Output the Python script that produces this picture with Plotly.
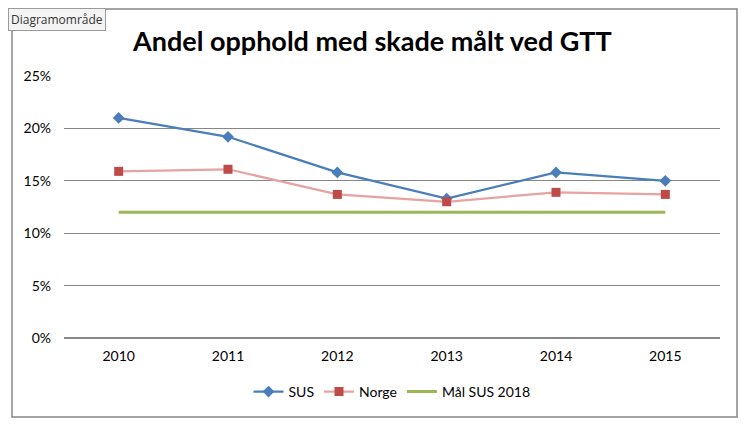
import plotly.graph_objects as go

years = ["2010", "2011", "2012", "2013", "2014", "2015"]
sus = [0.210, 0.192, 0.158, 0.133, 0.158, 0.150]
norge = [0.159, 0.161, 0.137, 0.130, 0.139, 0.137]
maal = [0.12, 0.12, 0.12, 0.12, 0.12, 0.12]

OFF = 8  # page body margin
W, H = 752 - OFF, 431 - OFF
L, R, T, B = 64 - OFF, 720 - OFF, 76 - OFF, 338 - OFF

def px(x):
    return (x - OFF - L) / (R - L)

def py(y):
    return (B - (y - OFF)) / (B - T)

fig = go.Figure()
fig.add_trace(go.Scatter(
    x=years, y=sus, name="SUS", mode="lines+markers",
    line=dict(color="#4A7EBB", width=2.25),
    marker=dict(symbol="diamond", size=9, color="#4A7EBB"),
))
fig.add_trace(go.Scatter(
    x=years, y=norge, name="Norge", mode="lines+markers",
    line=dict(color="#E6A3A1", width=2.25),
    marker=dict(symbol="square", size=9, color="#BE4B48"),
))
fig.add_trace(go.Scatter(
    x=years, y=maal, name="Mål SUS 2018", mode="lines",
    line=dict(color="#98B954", width=3),
))

fig.update_layout(
    width=W, height=H,
    margin=dict(l=L, r=W - R, t=T, b=H - B),
    paper_bgcolor="white", plot_bgcolor="white",
    font=dict(family="Lato, Open Sans, sans-serif", size=14, color="black"),
    showlegend=True,
    legend=dict(orientation="h", x=0.5, xanchor="center", y=py(392), yanchor="middle",
                font=dict(size=14), itemwidth=30, traceorder="normal"),
    xaxis=dict(type="category", range=[-0.5, 5.5], showgrid=False, zeroline=False,
               showline=False, ticks="", tickfont=dict(size=14), ticklabelstandoff=8),
    yaxis=dict(range=[0, 0.25], dtick=0.05, tickformat=".0%", showgrid=True,
               gridcolor="#868686", gridwidth=1, zeroline=True, zerolinecolor="#868686",
               showline=False, ticks="", ticklabelstandoff=12, tickfont=dict(size=14)),
    annotations=[
        dict(text="<b>Andel opphold med skade målt ved GTT</b>", xref="paper", yref="paper",
             x=px(372), y=py(41), xanchor="center", yanchor="middle", showarrow=False,
             font=dict(size=27, family="Lato, Open Sans, sans-serif", color="black")),
        dict(text="Diagramområde", xref="paper", yref="paper",
             x=px(8), y=py(8), xanchor="left", yanchor="top", showarrow=False,
             font=dict(size=12, family="Open Sans, sans-serif", color="#333333"),
             bgcolor="#F4F4F4", bordercolor="#9A9A9A", borderwidth=1, borderpad=2),
    ],
    shapes=[
        dict(type="rect", xref="paper", yref="paper",
             x0=px(12), x1=px(737), y0=py(417), y1=py(9),
             line=dict(color="#868686", width=1.5), fillcolor="rgba(0,0,0,0)", layer="below"),
    ],
)

fig.write_html("out.html")
